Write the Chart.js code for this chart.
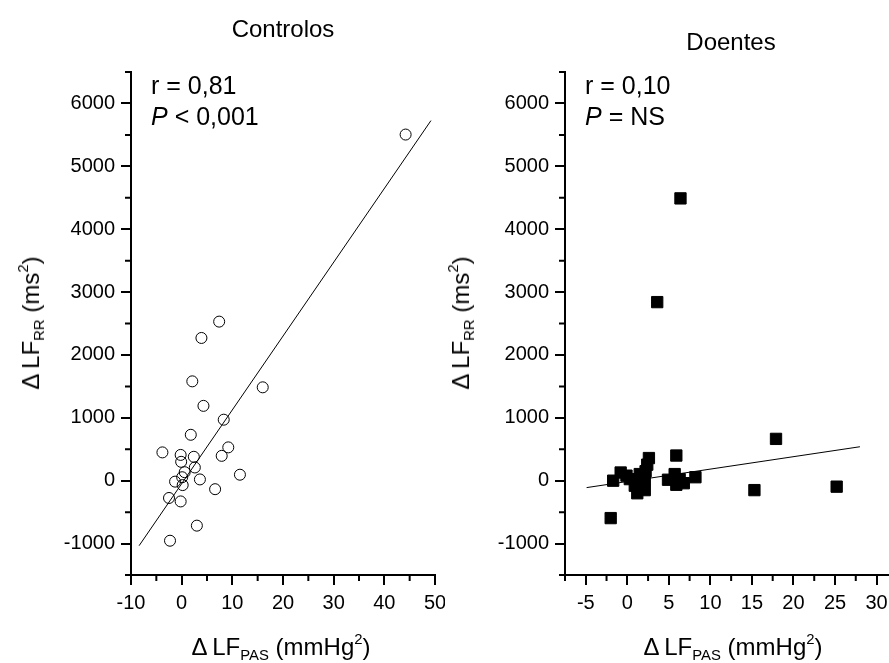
<!DOCTYPE html>
<html>
<head>
<meta charset="utf-8">
<script src="https://cdn.jsdelivr.net/npm/chart.js@4.4.1/dist/chart.umd.min.js"></script>
<style>
  body { margin: 0; background: #fff; overflow: hidden; }
  #wrap { position: relative; width: 889px; height: 663px; overflow: hidden; font-family: "Liberation Sans", Arial, sans-serif; color: #000; }
  .panel { position: absolute; top: 0; height: 663px; }
  .txt { position: absolute; white-space: nowrap; line-height: 1; }
  .title { font-size: 24px; transform: translateX(-50%); }
  .stat { font-size: 25px; line-height: 31px; }
  .xt { font-size: 24px; transform: translateX(-50%); }
  .yt { font-size: 24px; transform: translate(-50%, -50%) rotate(-90deg); }
  sub, sup { font-size: 0.62em; line-height: 0; }
  sub { vertical-align: -0.35em; }
  sup { vertical-align: 0.75em; }
</style>
</head>
<body>
<div id="wrap">
  <div class="panel" style="left:0;width:445px"><canvas id="ctrl"></canvas></div>
  <div class="panel" style="left:445px;width:453px"><canvas id="doen"></canvas></div>

  <div class="txt title" style="left:283px;top:17px">Controlos</div>
  <div class="txt title" style="left:731px;top:30px">Doentes</div>

  <div class="txt stat" style="left:151px;top:70px">r = 0,81<br><i>P</i> &lt; 0,001</div>
  <div class="txt stat" style="left:585px;top:70px">r = 0,10<br><i>P</i> = NS</div>

  <div class="txt xt" style="left:281px;top:635px">&Delta;&#8201;LF<sub>PAS</sub> (mmHg<sup>2</sup>)</div>
  <div class="txt xt" style="left:733px;top:635px">&Delta;&#8201;LF<sub>PAS</sub> (mmHg<sup>2</sup>)</div>

  <div class="txt yt" style="left:31px;top:323px">&Delta;&#8201;LF<sub>RR</sub> (ms<sup>2</sup>)</div>
  <div class="txt yt" style="left:461px;top:323px">&Delta;&#8201;LF<sub>RR</sub> (ms<sup>2</sup>)</div>
</div>

<script>
// Controlos (open circles)
const ctrlX = [3.9, 2.1, 16.0, 4.3, 8.3, 1.8, -3.8, 9.2, -0.2, 2.4, 7.9, -0.1, 2.6, 0.6, 11.5, 3.6, 0.1, -1.3, 0.2, 6.6, -2.5, -0.2, 3.0, -2.3, 44.2, 7.4];
const ctrlY = [2270, 1580, 1485, 1190, 970, 730, 450, 530, 410, 380, 395, 300, 210, 135, 95, 20, 55, -15, -70, -135, -275, -330, -715, -955, 5505, 2530];
const ctrlFitX = [-8.4, 49.2];
const ctrlFitY = [-1034, 5727];

// Doentes (filled squares)
const doenX = [6.4, 3.6, 17.9, 5.9, 2.6, 2.4, -0.8, -1.7, 8.2, 5.7, 4.9, 6.3, 5.9, 6.8, 15.3, 25.2, -2.0, 1.2, 2.1, 0.3, 1.1, 2.1, 1.5, -0.1, 2.2, 0.9];
const doenY = [4490, 2840, 665, 400, 360, 255, 130, 0, 55, 105, 15, 25, -65, -40, -150, -95, -595, -200, -150, 25, 0, 25, 105, 80, 150, -80];
const doenFitX = [-4.9, 28.0];
const doenFitY = [-110, 540];

// ticks
const yTicks = [-1000, 0, 1000, 2000, 3000, 4000, 5000, 6000];
const yMinor = [-1500, -500, 500, 1500, 2500, 3500, 4500, 5500, 6500];
const ctrlXTicks = [-10, 0, 10, 20, 30, 40, 50];
const ctrlXMinor = [-5, 5, 15, 25, 35, 45];
const doenXTicks = [-5, 0, 5, 10, 15, 20, 25, 30];
const doenXMinor = [-7.5, -2.5, 2.5, 7.5, 12.5, 17.5, 22.5, 27.5];

Chart.defaults.font.family = '"Liberation Sans", Arial, sans-serif';
Chart.defaults.color = '#000';

const pts = (xs, ys) => xs.map((x, i) => ({ x, y: ys[i] }));

// short minor ticks outside the axes
const minorTicks = {
    id: 'minorTicks',
    afterDraw(chart, args, opts) {
        const { ctx, chartArea, scales } = chart;
        ctx.save();
        ctx.strokeStyle = '#000';
        ctx.lineWidth = 2;
        ctx.beginPath();
        opts.x.forEach(v => {
            const px = scales.x.getPixelForValue(v);
            ctx.moveTo(px, chartArea.bottom);
            ctx.lineTo(px, chartArea.bottom + 6);
        });
        opts.y.forEach(v => {
            const py = scales.y.getPixelForValue(v);
            ctx.moveTo(chartArea.left, py);
            ctx.lineTo(chartArea.left - 6, py);
        });
        ctx.stroke();
        ctx.restore();
    }
};

function makePanel(id, cfg) {
    return new Chart(document.getElementById(id), {
        type: 'scatter',
        data: {
            datasets: [
                {
                    data: pts(cfg.fitX, cfg.fitY),
                    showLine: true,
                    borderColor: '#000',
                    borderWidth: 1,
                    pointRadius: 0
                },
                {
                    data: pts(cfg.xs, cfg.ys),
                    pointStyle: cfg.style,
                    pointRadius: cfg.radius,
                    borderColor: '#000',
                    borderWidth: 1,
                    backgroundColor: cfg.fill
                }
            ]
        },
        options: {
            responsive: true,
            maintainAspectRatio: false,
            animation: false,
            layout: { padding: { top: 72, right: cfg.padRight, left: 0, bottom: 0 } },
            plugins: {
                legend: { display: false },
                tooltip: { enabled: false },
                minorTicks: { x: cfg.xMinor, y: yMinor }
            },
            scales: {
                x: {
                    type: 'linear',
                    min: cfg.xMin,
                    max: cfg.xMax,
                    afterBuildTicks: s => { s.ticks = cfg.xTicks.map(v => ({ value: v })); },
                    afterFit: s => { s.height = 88; s.paddingLeft = 0; s.paddingRight = 0; },
                    border: { display: true, color: '#000', width: 2 },
                    grid: { drawOnChartArea: false, drawTicks: true, tickLength: 10, color: '#000', lineWidth: 2 },
                    ticks: { font: { size: 20 }, padding: 6, maxRotation: 0, callback: v => String(v) }
                },
                y: {
                    type: 'linear',
                    min: -1500,
                    max: 6500,
                    afterBuildTicks: s => { s.ticks = yTicks.map(v => ({ value: v })); },
                    afterFit: s => { s.width = cfg.yWidth; s.paddingTop = 0; s.paddingBottom = 0; },
                    border: { display: true, color: '#000', width: 2 },
                    grid: { drawOnChartArea: false, drawTicks: true, tickLength: 10, color: '#000', lineWidth: 2 },
                    ticks: { font: { size: 20 }, padding: 6, callback: v => String(v) }
                }
            }
        },
        plugins: [minorTicks]
    });
}

makePanel('ctrl', {
    xs: ctrlX, ys: ctrlY, fitX: ctrlFitX, fitY: ctrlFitY,
    style: 'circle', radius: 5.5, fill: 'rgba(0,0,0,0)',
    xMin: -10, xMax: 50, xTicks: ctrlXTicks, xMinor: ctrlXMinor,
    yWidth: 131, padRight: 10
});

makePanel('doen', {
    xs: doenX, ys: doenY, fitX: doenFitX, fitY: doenFitY,
    style: 'rect', radius: 8, fill: '#000',
    xMin: -7.5, xMax: 31.5, xTicks: doenXTicks, xMinor: doenXMinor,
    yWidth: 120, padRight: 0
});
</script>
</body>
</html>
